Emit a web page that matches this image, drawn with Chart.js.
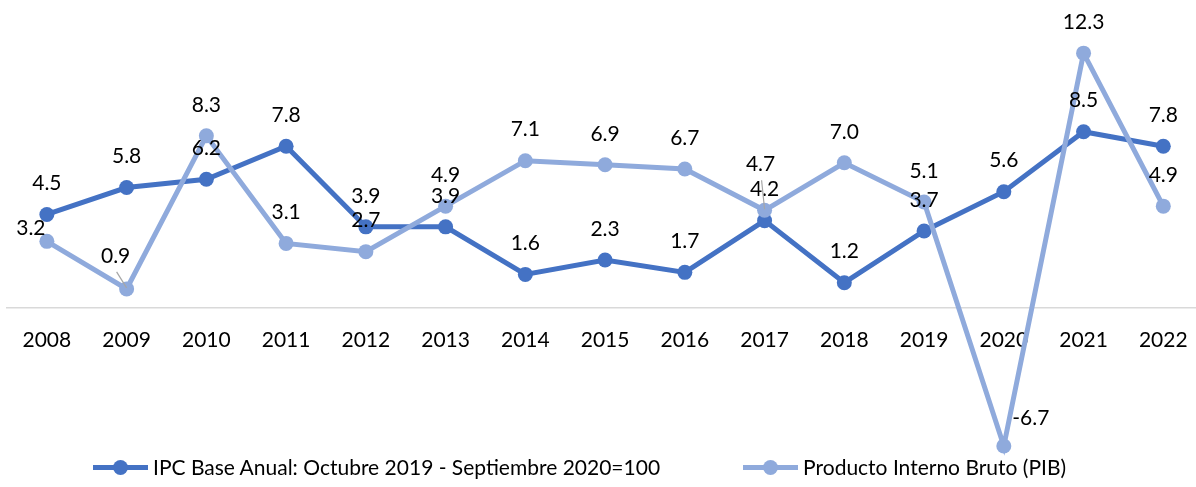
<!DOCTYPE html>
<html>
<head>
<meta charset="utf-8">
<script src="https://cdn.jsdelivr.net/npm/chart.js@4.4.0/dist/chart.umd.min.js"></script>
<style>
  html, body { margin: 0; padding: 0; background: #fff; }
  .chartWrap { position: relative; width: 1196px; height: 487px; }
  .legendDiv { position: absolute; left: 93px; top: 454px; display: flex; gap: 83px;
               font-family: Lato, sans-serif; font-size: 21px; color: #000; line-height: 26px; }
  .legendItem { display: flex; align-items: center; }
  .legendMark { position: relative; width: 55px; height: 5px; margin-right: 5px; }
  .legendMark span { position: absolute; left: 20px; top: -5px; width: 15px; height: 15px; border-radius: 50%; }
</style>
</head>
<body>
<div class="chartWrap">
  <canvas id="lineChart" width="1196" height="487"></canvas>
  <div class="legendDiv"></div>
</div>
<script>
'use strict'

// 연도
const years = [2008, 2009, 2010, 2011, 2012, 2013, 2014, 2015, 2016, 2017, 2018, 2019, 2020, 2021, 2022];
// IPC
const ipcValues = [4.5, 5.8, 6.2, 7.8, 3.9, 3.9, 1.6, 2.3, 1.7, 4.2, 1.2, 3.7, 5.6, 8.5, 7.8];
// PIB
const pibValues = [3.2, 0.9, 8.3, 3.1, 2.7, 4.9, 7.1, 6.9, 6.7, 4.7, 7.0, 5.1, -6.7, 12.3, 4.9];
const seriesNames = ['IPC Base Anual: Octubre 2019 - Septiembre 2020=100', 'Producto Interno Bruto (PIB)'];
const seriesColors = ['#4472C4', '#8FAADC'];

// 라벨 위치 보정 (dataset-index)
const labelNudge = { '1-0': [-16, -13], '1-1': [-11, -33], '1-9': [-4, -46], '1-12': [27, -28] };
const leaderLines = ['1-1', '1-9'];

//==================================================================================================

// 값 라벨 그리기
const valueLabels = {
    id: 'valueLabels',
    afterDatasetsDraw(chart) {
        const ctx = chart.ctx;
        ctx.save();
        ctx.font = '21px Lato';
        ctx.fillStyle = '#000';
        ctx.textAlign = 'center';
        ctx.textBaseline = 'middle';
        chart.data.datasets.forEach((ds, di) => {
            chart.getDatasetMeta(di).data.forEach((pt, i) => {
                const key = di + '-' + i;
                const nudge = labelNudge[key] || [0, -31];
                const lx = pt.x + nudge[0];
                const ly = pt.y + nudge[1];
                if (leaderLines.includes(key)) {
                    ctx.strokeStyle = '#A6A6A6';
                    ctx.lineWidth = 1.2;
                    ctx.beginPath();
                    ctx.moveTo(lx + 1, ly + 16);
                    ctx.lineTo(pt.x, pt.y - 1);
                    ctx.stroke();
                }
                ctx.fillText(ds.data[i].y.toFixed(1), lx, ly);
            });
        });
        ctx.restore();
    }
};

function makeData(values) {
    return years.map((yr, i) => ({ x: yr, y: values[i] }));
}

// 스케일 여백 제거
function noScalePadding(scale) {
    scale.paddingLeft = 0;
    scale.paddingRight = 0;
    scale.paddingTop = 0;
    scale.paddingBottom = 0;
}

new Chart(document.getElementById('lineChart'), {
    type: 'line',
    data: {
        datasets: [
            {
                label: seriesNames[0],
                data: makeData(ipcValues),
                borderColor: seriesColors[0],
                backgroundColor: seriesColors[0],
                borderWidth: 5,
                pointRadius: 7.5,
                pointBorderWidth: 0,
                order: 2
            },
            {
                label: seriesNames[1],
                data: makeData(pibValues),
                borderColor: seriesColors[1],
                backgroundColor: seriesColors[1],
                borderWidth: 5,
                pointRadius: 7.5,
                pointBorderWidth: 0,
                order: 1
            }
        ]
    },
    options: {
        responsive: false,
        animation: false,
        layout: { autoPadding: false, padding: { left: 7, right: 0, top: 0, bottom: 0 } },
        plugins: {
            legend: { display: false },
            tooltip: { enabled: false }
        },
        scales: {
            x: {
                type: 'linear',
                position: { y: 0 },
                min: 2007.5,
                max: 2022.41,
                afterBuildTicks: (scale) => { scale.ticks = years.map(v => ({ value: v })); },
                afterFit: noScalePadding,
                grid: { display: false, drawTicks: false },
                border: { display: true, color: '#D9D9D9', width: 1.5 },
                ticks: {
                    autoSkip: false,
                    maxRotation: 0,
                    padding: 20,
                    color: '#000',
                    font: { family: 'Lato', size: 21 },
                    callback: (v) => String(v)
                }
            },
            y: {
                display: false,
                min: -8.68,
                max: 14.87,
                afterFit: noScalePadding
            }
        }
    },
    plugins: [valueLabels]
});

// 범례
const legendDiv = document.querySelector('.legendDiv');
seriesNames.forEach((name, i) => {
    const item = document.createElement('div');
    item.className = 'legendItem';
    item.innerHTML = '<div class="legendMark" style="background:' + seriesColors[i] + '"><span style="background:' +
        seriesColors[i] + '"></span></div><span>' + name + '</span>';
    legendDiv.appendChild(item);
});
</script>
</body>
</html>
